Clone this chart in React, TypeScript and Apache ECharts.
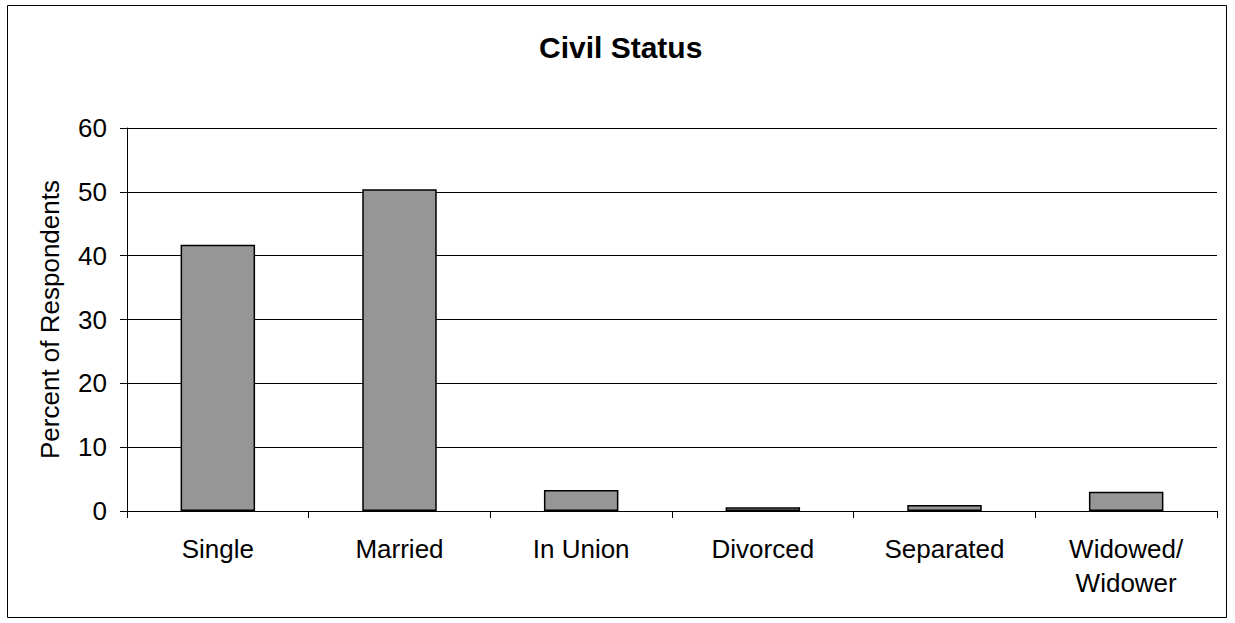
import React, { useEffect, useRef } from "react";
import * as echarts from "echarts";

const categories = ["Single", "Married", "In Union", "Divorced", "Separated", "Widowed/\nWidower"];
const values = [41.7, 50.4, 3.3, 0.6, 0.95, 3.0];
const yTicks = { min: 0, max: 60, interval: 10 };

const FONT = "'Liberation Sans', Arial, sans-serif";

export default function App() {
  const ref = useRef<HTMLDivElement>(null);
  useEffect(() => {
    const chart = echarts.init(ref.current!, null, { renderer: "svg" });
    chart.setOption({
      animation: false,
      backgroundColor: "#ffffff",
      textStyle: { fontFamily: FONT },
      title: {
        text: "Civil Status",
        left: 539,
        top: 32,
        padding: 0,
        textStyle: { fontFamily: FONT, fontSize: 30, fontWeight: "bold", color: "#000" },
      },
      graphic: [
        {
          type: "rect",
          shape: { x: 7.5, y: 5.5, width: 1219, height: 612 },
          style: { fill: "none", stroke: "#000", lineWidth: 1 },
          silent: true,
        },
      ],
      grid: { left: 127, right: 18, top: 128, bottom: 112, containLabel: false },
      xAxis: {
        type: "category",
        data: categories,
        boundaryGap: true,
        axisLine: { show: true, lineStyle: { color: "#000", width: 1 } },
        axisTick: { show: true, alignWithLabel: false, length: 7, lineStyle: { color: "#000" } },
        axisLabel: { color: "#000", fontSize: 26, fontFamily: FONT, margin: 21, lineHeight: 34, interval: 0 },
        splitLine: { show: false },
      },
      yAxis: {
        type: "value",
        min: yTicks.min,
        max: yTicks.max,
        interval: yTicks.interval,
        name: "Percent of Respondents",
        nameLocation: "middle",
        nameGap: 64,
        nameTextStyle: { color: "#000", fontSize: 26, fontFamily: FONT },
        axisLine: { show: true, lineStyle: { color: "#000", width: 1 } },
        axisTick: { show: true, length: 7, lineStyle: { color: "#000" } },
        axisLabel: { color: "#000", fontSize: 26, fontFamily: FONT, margin: 20 },
        splitLine: { show: true, lineStyle: { color: "#000", width: 1 } },
      },
      series: [
        {
          type: "bar",
          data: values,
          barWidth: "41%",
          itemStyle: { color: "#969696", borderColor: "#000", borderWidth: 1.5 },
        },
      ],
    });
    return () => chart.dispose();
  }, []);
  return <div ref={ref} style={{ position: "fixed", left: 0, top: 0, width: 1235, height: 623 }} />;
}
